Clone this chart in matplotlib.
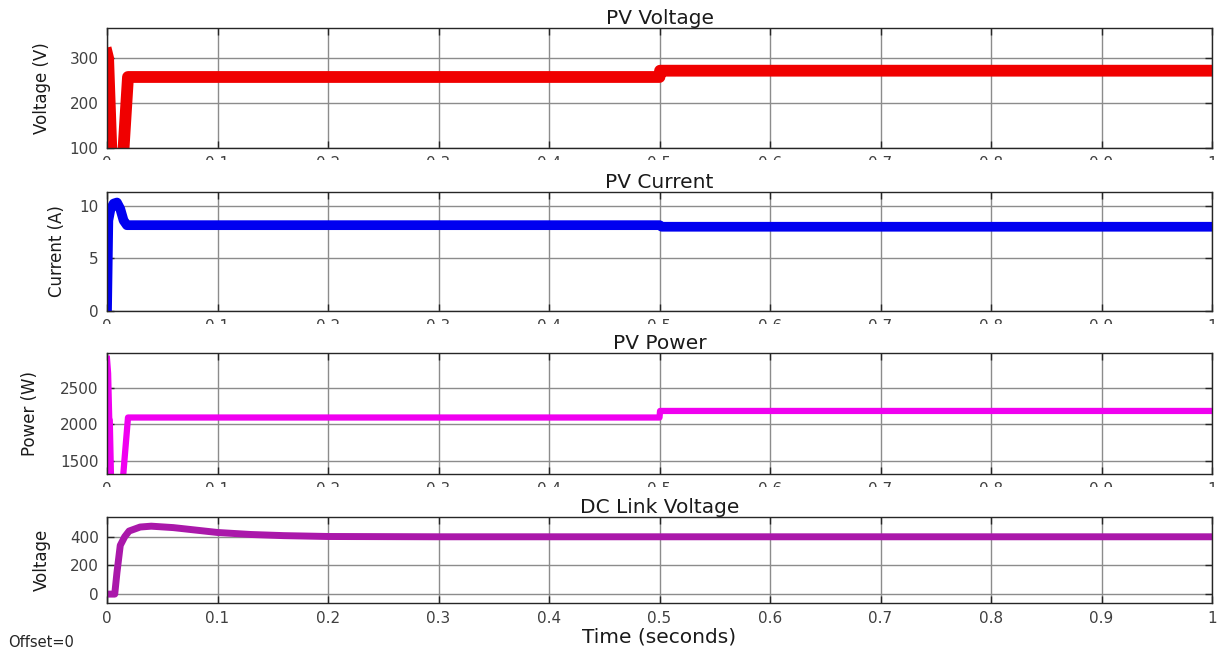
import numpy as np
import matplotlib
matplotlib.use("Agg")
import matplotlib.pyplot as plt
from matplotlib.transforms import Bbox, TransformedBbox

# PV voltage (V)
pv_v_t = [0, 0.001, 0.005, 0.013, 0.019, 0.5, 0.5005, 1.0]
pv_v = [310, 300, 20, 20, 258, 258, 272, 272]

# PV current (A)
pv_i_t = [0, 0.0012, 0.003, 0.006, 0.009, 0.012, 0.015, 0.018, 0.5, 0.502, 1.0]
pv_i = [0, 8.6, 9.6, 10.2, 10.3, 9.7, 8.6, 8.15, 8.15, 8.0, 8.0]

# PV power (W)
pv_p_t = [0, 0.001, 0.002, 0.0025, 0.004, 0.013, 0.019, 0.5, 0.5005, 1.0]
pv_p = [2900, 2700, 2080, 2060, 1000, 1000, 2095, 2095, 2185, 2185]

# DC link voltage (V)
dc_t = [0, 0.007, 0.009, 0.012, 0.016, 0.02, 0.03, 0.04, 0.06, 0.08, 0.1, 0.13, 0.16, 0.2, 0.3, 1.0]
dc_v = [0, 0, 150, 340, 400, 440, 468, 474, 464, 447, 430, 416, 408, 402, 400, 400]

titles = ["PV Voltage", "PV Current", "PV Power", "DC Link Voltage"]
ylabels = ["Voltage (V)", "Current (A)", "Power (W)", "Voltage"]
yticks = [[100, 200, 300], [0, 5, 10], [1500, 2000, 2500], [0, 200, 400]]
ylims = [(100, 367), (0, 11.3), (1320, 2980), (-62, 538)]
xticks = np.arange(0, 1.01, 0.1)
xticklabels = ["0", "0.1", "0.2", "0.3", "0.4", "0.5", "0.6", "0.7", "0.8", "0.9", "1"]

#PLOT
W, H = 1217, 649
plt.rcParams['font.family'] = 'DejaVu Sans'
fig = plt.figure(figsize=(W/100, H/100), dpi=100)

# panel boxes in pixels: (top, bottom)
boxes = [(28, 148), (192, 311), (353, 474), (517, 603)]
left, right = 107, 1212
series = [(pv_v_t, pv_v, '#f00000', 8.5),
          (pv_i_t, pv_i, '#0000f0', 7.0),
          (pv_p_t, pv_p, '#f000f0', 4.5),
          (dc_t, dc_v, '#aa18aa', 5.0)]
ylab_x = [42, 57, 30, 42]
# x tick labels of the upper panels are cut off by the panel below
cuts = [160, 324, 487, None]

axes = []
for k in range(4):
    top, bot = boxes[k]
    ax = fig.add_axes([left/W, 1 - bot/H, (right-left)/W, (bot-top)/H])
    t, y, c, lw = series[k]
    ax.plot(t, y, color=c, lw=lw, solid_joinstyle='round')
    ax.set_xlim(0, 1)
    ax.set_ylim(*ylims[k])
    ax.set_xticks(xticks)
    ax.set_xticklabels(xticklabels)
    ax.set_yticks(yticks[k])
    ax.grid(True, color='#8c8c8c', lw=1.0)
    ax.tick_params(direction='in', top=True, right=True, length=5, width=1,
                   labelsize=11, labelcolor='#404040', color='#262626', pad=6)
    for s in ax.spines.values():
        s.set_color('#262626')
        s.set_linewidth(1.0)
    ax.set_title(titles[k], fontsize=14.5, color='#1a1a1a', pad=3)
    ax.set_ylabel(ylabels[k], fontsize=12, color='#1a1a1a')
    ax.yaxis.label.set_verticalalignment('center')
    ax.yaxis.set_label_coords((ylab_x[k]-left)/(right-left), 0.5)
    if cuts[k] is not None:
        box = TransformedBbox(Bbox([[0, 1 - cuts[k]/H], [1, 1]]), fig.transFigure)
        for tick in ax.xaxis.get_major_ticks():
            tick.label1.set_clip_on(True)
            tick.label1.set_clip_box(box)
    axes.append(ax)

axes[3].set_xlabel("Time (seconds)", fontsize=14.5, color='#1a1a1a', labelpad=1)
fig.text(8/W, 1 - 647/H, "Offset=0", fontsize=10.5, color='#262626', ha='left', va='baseline')

fig.savefig('out.png', dpi=100)
